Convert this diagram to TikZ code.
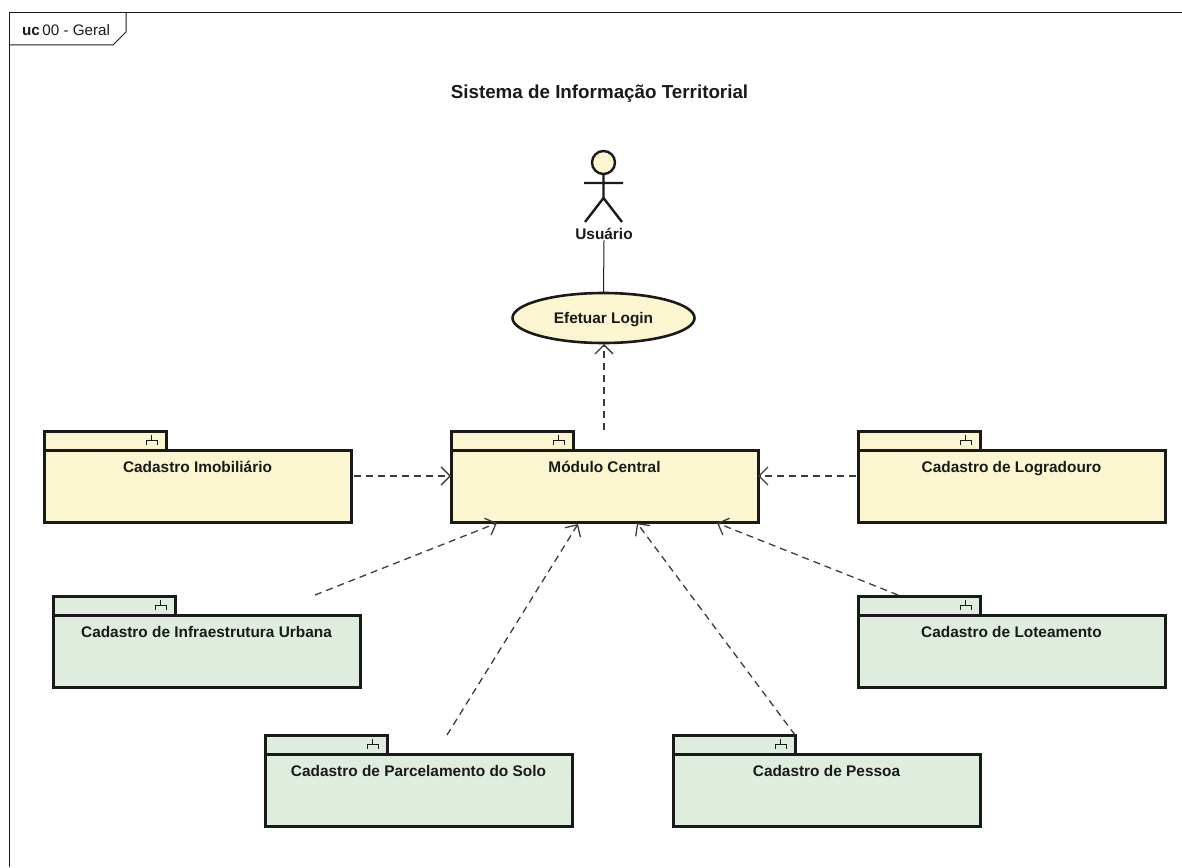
\documentclass[tikz,border=0pt]{standalone}
\usepackage{fontspec}
\setmainfont{Liberation Sans}
\usetikzlibrary{arrows.meta,shapes.geometric}
\definecolor{pkgY}{HTML}{FBF6CF}
\definecolor{pkgG}{HTML}{DFEDDF}
\definecolor{ink}{HTML}{1A1A1A}
\tikzset{
  pkgbody/.style={draw=ink,line width=3pt,minimum width=307pt,minimum height=72pt,inner sep=0pt,outer sep=0pt,anchor=north west,align=center},
  pkgtab/.style={draw=ink,line width=3pt},
  pkgicon/.style={draw=ink,line width=1pt},
  pkglabel/.style={font=\fontsize{15.4}{18}\selectfont\bfseries,text=ink},
  dep/.style={draw=ink!85,line width=1.3pt,dash pattern=on 7pt off 5pt,-{Straight Barb[length=9pt,width=18pt,line width=1.3pt]}},
  assoc/.style={draw=ink,line width=1pt},
}
% #1 name, #2 left, #3 body top, #4 fill, #5 label
\newcommand{\pkgbox}[5]{%
  \filldraw[pkgtab,fill=#4] (#2,#3) -- (#2,#3-19) -- (#2+122.5,#3-19) -- (#2+122.5,#3) -- cycle;
  \node[pkgbody,fill=#4] (#1) at (#2,#3) {};
  \node[pkglabel,anchor=base] (#1label) at (#2+153.5,#3+22.5) {#5};
  \draw[pkgicon] (#2+102,#3-5) -- (#2+102,#3-10) -- (#2+113,#3-10) -- (#2+113,#3-5) (#2+107.5,#3-10) -- (#2+107.5,#3-15);
}
\begin{document}
\begin{tikzpicture}[x=1pt,y=-1pt]
\useasboundingbox (0,0) rectangle (1182,867);
% frame
\draw[ink,line width=1pt] (1182,13) -- (9,13) -- (9,867);
\draw[ink,line width=1pt] (9,45) -- (113,45) -- (126,32) -- (126,13);
\node[anchor=west,inner sep=0pt,font=\fontsize{15.2}{17}\selectfont,text=ink] (frametitle) at (22,30) {\textbf{uc}\,00 - Geral};
\node[font=\fontsize{18.8}{22}\selectfont\bfseries,text=ink] (title) at (599.5,93.5) {Sistema de Informação Territorial};
% actor
\filldraw[draw=ink,line width=2.4pt,fill=pkgY] (603.5,162.5) circle (11.5);
\draw[ink,line width=2.4pt] (603.5,174) -- (603.5,198) (584,183) -- (623,183) (585,222) -- (603.5,198) -- (622,222);
\node[pkglabel,inner sep=1pt] (actor) at (604,233.5) {Usuário};
% use case
\node[ellipse,draw=ink,line width=2.6pt,fill=pkgY,minimum width=182pt,minimum height=50pt,inner sep=0pt,outer sep=0pt,pkglabel] (login) at (603.5,318) {\raisebox{-5.5pt}[0pt][0pt]{Efetuar Login}};
\draw[assoc] (actor.south) -- (login.north);
% packages
\pkgbox{central}{451}{450}{pkgY}{Módulo Central}
\pkgbox{imob}{44}{450}{pkgY}{Cadastro Imobiliário}
\pkgbox{lograd}{858}{450}{pkgY}{Cadastro de Logradouro}
\pkgbox{infra}{53}{615}{pkgG}{Cadastro de Infraestrutura Urbana}
\pkgbox{lotea}{858}{615}{pkgG}{Cadastro de Loteamento}
\pkgbox{parcel}{265}{754}{pkgG}{Cadastro de Parcelamento do Solo}
\pkgbox{pessoa}{673}{754}{pkgG}{Cadastro de Pessoa}
% connector ends
\coordinate (centralTop) at (604,430);
\coordinate (loginBottom) at (604,344);
\coordinate (imobOut) at (354,476);
\coordinate (centralW) at (451,476);
\coordinate (logOut) at (856,476);
\coordinate (centralE) at (758,476);
\coordinate (infraOut) at (315,595);
\coordinate (centralS1) at (497,523);
\coordinate (parcelOut) at (447,735);
\coordinate (centralS2) at (578,524);
\coordinate (pessoaOut) at (795,735);
\coordinate (centralS3) at (637,523);
\coordinate (loteaOut) at (898,595);
\coordinate (centralS4) at (717,523);
\draw[dep] (centralTop) -- (loginBottom);
\draw[dep] (imobOut) -- (centralW);
\draw[dep] (logOut) -- (centralE);
\draw[dep] (infraOut) -- (centralS1);
\draw[dep] (parcelOut) -- (centralS2);
\draw[dep] (pessoaOut) -- (centralS3);
\draw[dep] (loteaOut) -- (centralS4);
\end{tikzpicture}
\end{document}
